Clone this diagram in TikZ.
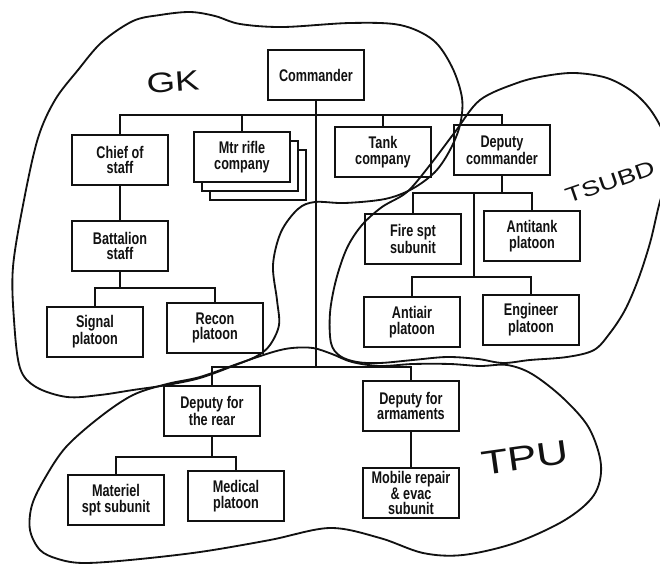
\documentclass[tikz,border=0pt]{standalone}
\usepackage{fontspec}
\usepackage{tikz}
\newfontfamily\orgfont[FakeStretch=0.75]{Liberation Sans}
\newfontfamily\handfont[FakeStretch=1.3]{Liberation Sans}
\definecolor{mink}{HTML}{111111}
\tikzset{
  obox/.style={draw=mink, fill=white, line width=1.4pt, minimum width=2.4cm,
               minimum height=1.25cm, inner sep=1pt, align=center, text=mink,
               font=\orgfont\bfseries\fontsize{12}{11}\selectfont},
  link/.style={draw=mink, line width=1.3pt},
  blob/.style={draw=mink, line width=1.3pt, line join=round},
  hand/.style={text=mink, inner sep=0pt},
}
\begin{document}
\begin{tikzpicture}[x=0.025cm, y=-0.025cm]
  \path[use as bounding box, fill=white] (0,0) rectangle (660,565);
  \clip (0,0) rectangle (660,565);

  % top level
  \node[obox] (cmd) at (316,75) {Commander};
  \node[obox] (cos) at (120,160) {Chief of\\staff};
  \node[obox] (mrc3) at (258,175) {};
  \node[obox] (mrc2) at (250,166) {};
  \node[obox] (mrc) at (242,157) {Mtr rifle\\company};
  \node[obox] (tank) at (383,152) {Tank\\company};
  \node[obox] (dcmd) at (502,150) {Deputy\\commander};

  % staff and deputy commander branches
  \node[obox] (bst) at (120,246) {Battalion\\staff};
  \node[obox] (sig) at (95,332) {Signal\\platoon};
  \node[obox] (rec) at (215,328) {Recon\\platoon};
  \node[obox] (fire) at (413,239) {Fire spt\\subunit};
  \node[obox] (atk) at (532,236) {Antitank\\platoon};
  \node[obox] (aair) at (412,322) {Antiair\\platoon};
  \node[obox] (eng) at (531,320) {Engineer\\platoon};

  % rear and armaments
  \node[obox] (rear) at (212,411) {Deputy for\\the rear};
  \node[obox] (arm) at (411,406) {Deputy for\\armaments};
  \node[obox] (mat) at (116,500) {Materiel\\spt subunit};
  \node[obox] (med) at (236,496) {Medical\\platoon};
  \node[obox] (rep) at (411,493) {Mobile repair\\\& evac\\subunit};

  \coordinate (bustop) at (316,115);
  \coordinate (busmid) at (316,367);
  \coordinate (busstaff) at (120,288);
  \coordinate (busdep) at (502,193);
  \coordinate (busair) at (474,277);
  \coordinate (busrear) at (212,457);

  \draw[link] (cos.north) |- (bustop) -| (dcmd.north);
  \draw[link] (mrc.north) -- (mrc.north |- bustop);
  \draw[link] (tank.north) -- (tank.north |- bustop);
  \draw[link] (cmd.south) -- (busmid);
  \draw[link] (rear.north) |- (busmid) -| (arm.north);
  \draw[link] (cos.south) -- (bst.north);
  \draw[link] (bst.south) -- (busstaff);
  \draw[link] (sig.north) |- (busstaff) -| (rec.north);
  \draw[link] (dcmd.south) -- (busdep);
  \draw[link] (fire.north) |- (busdep) -| (atk.north);
  \draw[link] (busdep -| busair) -- (busair);
  \draw[link] (aair.north) |- (busair) -| (eng.north);
  \draw[link] (rear.south) -- (busrear);
  \draw[link] (mat.north) |- (busrear) -| (med.north);
  \draw[link] (arm.south) -- (rep.north);

  % hand-drawn groupings
  \draw[blob] plot[smooth cycle, tension=0.55] coordinates {
    (13,267) (14,320) (20,368) (36,387) (67,397) (100,395) (133,390)
    (167,385) (200,378) (233,366) (257,356) (270,345) (279,325) (277,300)
    (273,265) (281,232) (298,209) (315,202) (345,203) (385,199) (412,189)
    (435,172) (450,150) (460,125) (462,98) (452,67) (433,40) (400,25)
    (350,23) (283,27) (240,24) (215,16) (190,12) (160,15) (133,21)
    (102,42) (78,70) (55,100) (38,138) (24,200)};
  \draw[blob] plot[smooth cycle, tension=0.55] coordinates {
    (480,100) (517,83) (545,76) (575,73) (607,78) (633,92) (652,112)
    (666,140) (668,172) (659,205) (650,243) (638,280) (625,310) (610,333)
    (594,350) (567,357) (530,360) (503,363) (478,359) (447,357) (413,360)
    (380,363) (357,362) (340,356) (331,343) (330,313) (336,280) (347,248)
    (362,225) (382,207) (407,192) (430,165) (455,132)};
  \draw[blob] plot[smooth cycle, tension=0.55] coordinates {
    (133,395) (167,384) (200,377) (240,363) (273,352) (292,348) (313,348)
    (332,354) (352,362) (380,366) (413,364) (450,364) (480,366) (507,365)
    (532,374) (563,398) (589,428) (601,465) (594,495) (565,520) (515,543)
    (463,555) (423,553) (380,538) (330,528) (270,540) (200,552) (130,560)
    (83,563) (58,559) (40,550) (30,530) (32,505) (45,478) (66,447)
    (100,417)};

  \node[hand, font=\handfont\fontsize{20}{20}\selectfont, rotate=4]
    (gk) at (173,82) {GK};
  \node[hand, font=\handfont\fontsize{15}{15}\selectfont, rotate=19]
    (tsubd) at (610,182) {TSUBD};
  \node[hand, font=\handfont\fontsize{24}{24}\selectfont, rotate=8]
    (tpu) at (525,458) {TPU};
\end{tikzpicture}
\end{document}
